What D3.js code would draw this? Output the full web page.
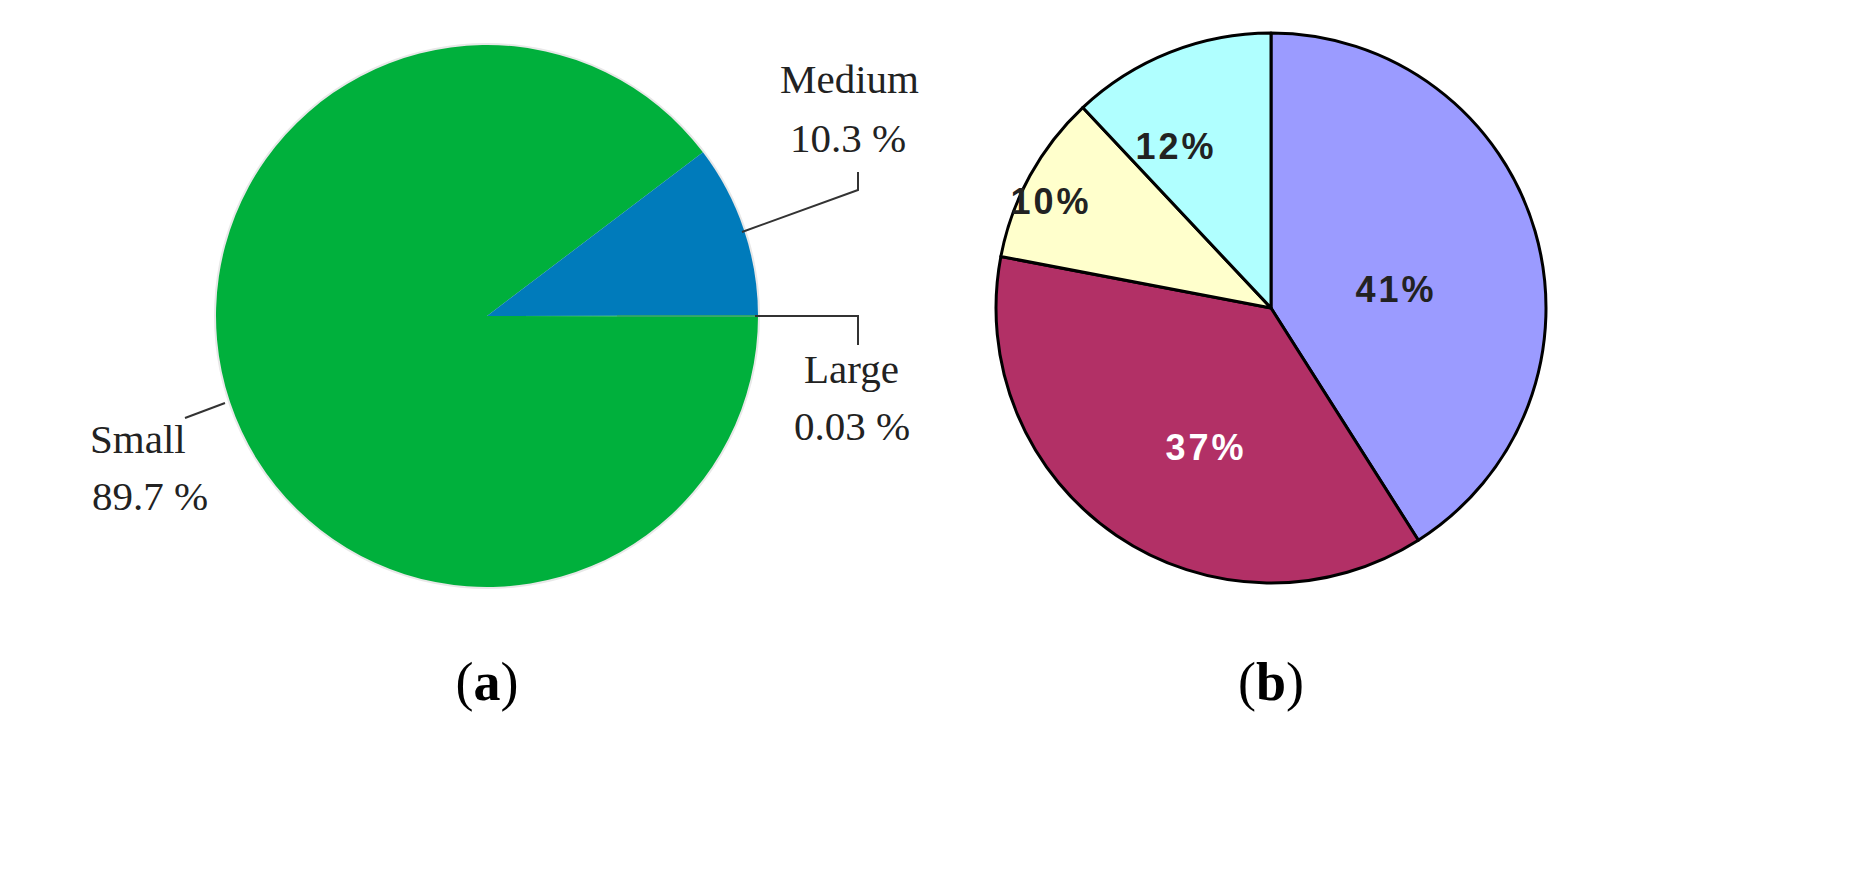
<!DOCTYPE html>
<html><head><meta charset="utf-8">
<script src="https://cdn.jsdelivr.net/npm/d3@7"></script>
<style>body{margin:0;background:#fff}</style>
</head><body>
<script>
// chart (a)
var sizeNames = ["Small", "Medium", "Large"]
var sizeValues = [89.7, 10.3, 0.03]
var sizeLabels = ["89.7 %", "10.3 %", "0.03 %"]
var sizeColors = ["#00b03c", "#007bbb", "#00b03c"]
// chart (b)
var shareValues = [41, 37, 10, 12]
var shareColors = ["#9b9bff", "#b23066", "#ffffcc", "#b0ffff"]
var shareText = ["#222", "#fff", "#222", "#222"]

var svg = d3.select("body").append("svg").attr("width", 1869).attr("height", 871)

// --- (a): small starts at 3 o'clock going clockwise round, medium ends back at 3 o'clock
var ga = svg.append("g").attr("transform", "translate(487,316)")
var ra = 271
var pieA = d3.pie().sort(null).value(d => d)
  .startAngle(Math.PI / 2 + 2 * Math.PI * 0.0003).endAngle(Math.PI / 2 + 2 * Math.PI)
var arcA = d3.arc().innerRadius(0).outerRadius(ra)
ga.append("circle").attr("r", ra + 2).attr("fill", "#e8e8e8")
ga.selectAll("path").data(pieA(sizeValues)).join("path")
  .attr("d", arcA).attr("fill", (d, i) => sizeColors[i])
ga.append("line").attr("x1", 130).attr("x2", ra).attr("y1", 0).attr("y2", 0)
  .attr("stroke", "#2ea060").attr("stroke-width", 1.5)

var leaders = [
  [[225, 403], [185, 418]],
  [[742, 232], [858, 190], [858, 172]],
  [[755, 316], [858, 316], [858, 345]]
]
svg.selectAll("polyline").data(leaders).join("polyline")
  .attr("points", d => d.join(" ")).attr("fill", "none")
  .attr("stroke", "#333").attr("stroke-width", 2)

var labelPos = [[90, 453, 92, 510], [780, 93, 790, 152], [804, 383, 794, 440]]
sizeNames.forEach(function (n, i) {
  var p = labelPos[i]
  svg.append("text").attr("x", p[0]).attr("y", p[1]).text(n)
    .attr("font-family", "Liberation Serif").attr("font-size", 41).attr("fill", "#222")
  svg.append("text").attr("x", p[2]).attr("y", p[3]).text(sizeLabels[i])
    .attr("font-family", "Liberation Serif").attr("font-size", 41).attr("fill", "#222")
})

// --- (b)
var gb = svg.append("g").attr("transform", "translate(1271,308)")
var rb = 275
var pieB = d3.pie().sort(null).value(d => d)
var arcB = d3.arc().innerRadius(0).outerRadius(rb)
var arcs = pieB(shareValues)
gb.selectAll("path").data(arcs).join("path")
  .attr("d", arcB).attr("fill", (d, i) => shareColors[i])
  .attr("stroke", "#000").attr("stroke-width", 3).attr("stroke-linejoin", "round")
var textPos = [[125, -16], [-65, 142], [-220, -104], [-95, -159]]
gb.selectAll("text").data(arcs).join("text")
  .attr("x", (d, i) => textPos[i][0]).attr("y", (d, i) => textPos[i][1])
  .attr("text-anchor", "middle").attr("dominant-baseline", "middle")
  .attr("font-family", "Liberation Sans").attr("font-weight", "bold")
  .attr("font-size", 36).attr("letter-spacing", 3)
  .attr("fill", (d, i) => shareText[i]).text(d => d.data + "%")

// panel captions
var caps = [["a", 487], ["b", 1271]]
caps.forEach(function (c) {
  var t = svg.append("text").attr("x", c[1]).attr("y", 700).attr("text-anchor", "middle")
    .attr("font-family", "Liberation Serif").attr("font-size", 54).attr("fill", "#000")
  t.append("tspan").text("(")
  t.append("tspan").attr("font-weight", "bold").text(c[0])
  t.append("tspan").text(")")
})
</script>
</body></html>
